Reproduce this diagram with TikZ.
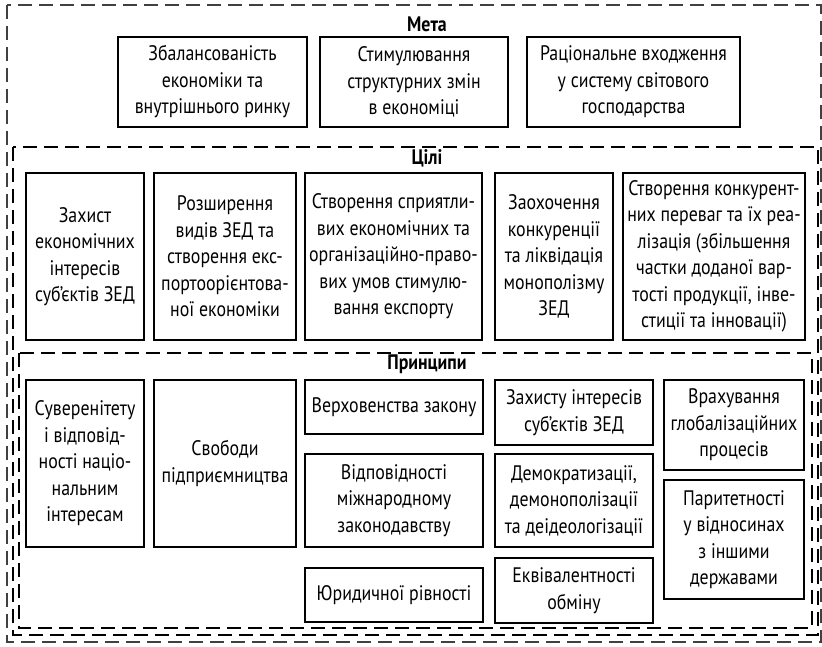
\documentclass[tikz,border=0pt]{standalone}
\usepackage{fontspec}
\setmainfont[FakeStretch=0.85]{PT Sans}
\begin{document}
\begin{tikzpicture}[x=1pt,y=-1pt,
  bx/.style={draw=black,line width=2.2pt,inner sep=0pt,align=center,font=\fontsize{21}{26.5}\selectfont},
  grp/.style={draw=black,line width=1.5pt,dash pattern=on 14pt off 7pt},
  outergrp/.style={draw=black!75,line width=1.4pt,dash pattern=on 14pt off 7pt},
  ttl/.style={inner sep=0pt,font=\bfseries\fontsize{21}{24}\selectfont}]
\useasboundingbox (0,0) rectangle (822,647);
% group frames
\draw[outergrp] (7,5) rectangle (821,642);
\draw[grp] (13,147) rectangle (818,635);
\draw[grp] (19,353) rectangle (812,628);
\node[ttl] (tm) at (427,24) {Мета};
\node[ttl] (tc) at (427,158) {Цілі};
\node[ttl] (tp) at (427,364) {Принципи};
% Мета
\node[bx,minimum width=189pt,minimum height=90pt] (m1) at (212.5,82) {Збалансованість\\економіки та\\внутрішнього ринку};
\node[bx,minimum width=188pt,minimum height=90pt] (m2) at (414,82) {Стимулювання\\структурних змін\\в економіці};
\node[bx,minimum width=213pt,minimum height=90pt] (m3) at (633.5,82) {Раціональне входження\\у систему світового\\господарства};
% Цілі
\node[bx,minimum width=118pt,minimum height=167pt] (c1) at (85,256.5) {Захист\\економічних\\інтересів\\суб'єктів ЗЕД};
\node[bx,minimum width=142pt,minimum height=167pt] (c2) at (225,256.5) {Розширення\\видів ЗЕД та\\створення екс-\\портоорієнтова-\\ної економіки};
\node[bx,minimum width=177pt,minimum height=167pt] (c3) at (393.5,256.5) {Створення сприятли-\\вих економічних та\\організаційно-право-\\вих умов стимулю-\\вання експорту};
\node[bx,minimum width=118pt,minimum height=167pt] (c4) at (554,256.5) {Заохочення\\конкуренції\\та ліквідація\\монополізму\\ЗЕД};
\node[bx,minimum width=182pt,minimum height=167pt] (c5) at (714,256.5) {Створення конкурент-\\них переваг та їх реа-\\лізація (збільшення\\частки доданої вар-\\тості продукції, інве-\\стиції та інновації)};
% Принципи
\node[bx,minimum width=118pt,minimum height=167pt] (p1) at (85,463.5) {Суверенітету\\і відповід-\\ності націо-\\нальним\\інтересам};
\node[bx,minimum width=142pt,minimum height=167pt] (p2) at (225,463.5) {Свободи\\підприємництва};
\node[bx,minimum width=178pt,minimum height=54pt] (p3a) at (394,407) {Верховенства закону};
\node[bx,minimum width=178pt,minimum height=93pt] (p3b) at (394,500.5) {Відповідності\\міжнародному\\законодавству};
\node[bx,minimum width=178pt,minimum height=54pt] (p3c) at (394,595) {Юридичної рівності};
\node[bx,minimum width=158pt,minimum height=65pt] (p4a) at (574,412.5) {Захисту інтересів\\суб'єктів ЗЕД};
\node[bx,minimum width=158pt,minimum height=93pt] (p4b) at (574,500.5) {Демократизації,\\демонополізації\\та деідеологізації};
\node[bx,minimum width=158pt,minimum height=65pt] (p4c) at (574,590.5) {Еквівалентності\\обміну};
\node[bx,minimum width=140pt,minimum height=90pt] (p5a) at (734,425) {Врахування\\глобалізаційних\\процесів};
\node[bx,minimum width=140pt,minimum height=119pt] (p5b) at (734,539.5) {Паритетності\\у відносинах\\з іншими\\державами};
\end{tikzpicture}
\end{document}
